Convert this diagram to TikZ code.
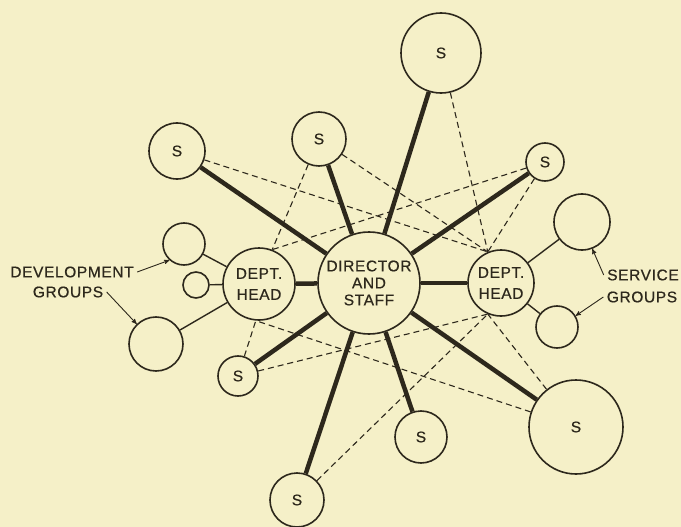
\documentclass[tikz,border=0pt]{standalone}
\usepackage{fontspec}
\setmainfont{Liberation Sans}[LetterSpace=4,FakeBold=0.6]
\usetikzlibrary{arrows,calc}
\definecolor{paper}{RGB}{245,240,200}
\definecolor{ink}{RGB}{45,40,28}

\begin{document}
\begin{tikzpicture}[x=1pt,y=-1pt,
    every node/.style={font=\fontsize{15.5}{17}\selectfont,text=ink},
    blob/.style={circle,draw=ink,line width=1.6pt,inner sep=0pt,minimum size=#1},
    spoke/.style={draw=ink,line width=4.5pt},
    link/.style={draw=ink,line width=1.1pt,dash pattern=on 6pt off 4pt},
    tie/.style={draw=ink,line width=1.4pt},
    pointer/.style={draw=ink,line width=0.9pt,-stealth'}]
  \fill[paper] (0,0) rectangle (681,527);
  \useasboundingbox (0,0) rectangle (681,527);

  % centre and department heads
  \node[blob=102pt,align=center] (dir) at (369,283) {DIRECTOR\\AND\\STAFF};
  \node[blob=72pt,align=center] (dhl) at (259,284) {DEPT.\\[4pt]HEAD};
  \node[blob=66pt,align=center] (dhr) at (501,283) {DEPT.\\[4pt]HEAD};

  % staff members
  \node[blob=80pt] (sTop) at (441,53) {S};
  \node[blob=54pt] (sMid) at (319,139) {S};
  \node[blob=56pt] (sTL) at (177,151) {S};
  \node[blob=38pt] (sTR) at (545,162) {S};
  \node[blob=40pt] (sBL) at (238,376) {S};
  \node[blob=52pt] (sBM) at (421,437) {S};
  \node[blob=54pt] (sB) at (297,500) {S};
  \node[blob=94pt] (sBR) at (576,427) {S};

  % groups
  \node[blob=42pt] (dev1) at (184,244) {};
  \node[blob=26pt] (dev2) at (196,285) {};
  \node[blob=54pt] (dev3) at (156,344) {};
  \node[blob=56pt] (ser1) at (582,222) {};
  \node[blob=42pt] (ser2) at (557,327) {};

  \node (devA) at (72,272) {DEVELOPMENT};
  \node (devB) at (68,292) {GROUPS};
  \node (serA) at (643,275) {SERVICE};
  \node (serB) at (642,297) {GROUPS};

  \foreach \s in {sTop,sMid,sTL,sTR,sBL,sBM,sB,sBR,dhl,dhr}
    \draw[spoke] (dir) -- (\s);
  \foreach \g in {dev1,dev2,dev3}
    \draw[tie] (dhl) -- (\g);
  \foreach \g in {ser1,ser2}
    \draw[tie] (dhr) -- (\g);

  % dashed lines to the department heads
  \foreach \s in {sMid,sTR}
    \draw[link] (\s) -- (dhl.69);
  \foreach \s in {sBL,sBR}
    \draw[link] (\s) -- (dhl.265);
  \foreach \s in {sTop,sTR,sMid,sTL}
    \draw[link] (\s) -- (dhr.113);
  \foreach \s in {sBL,sB,sBR}
    \draw[link] (\s) -- (dhr.247);

  \draw[pointer] (devA.east) -- (dev1.228);
  \draw[pointer] (devB.east) -- (dev3.134);
  \draw[pointer] (serA.west) -- (ser1.291);
  \draw[pointer] (serB.west) -- (ser2.31);
\end{tikzpicture}
\end{document}
